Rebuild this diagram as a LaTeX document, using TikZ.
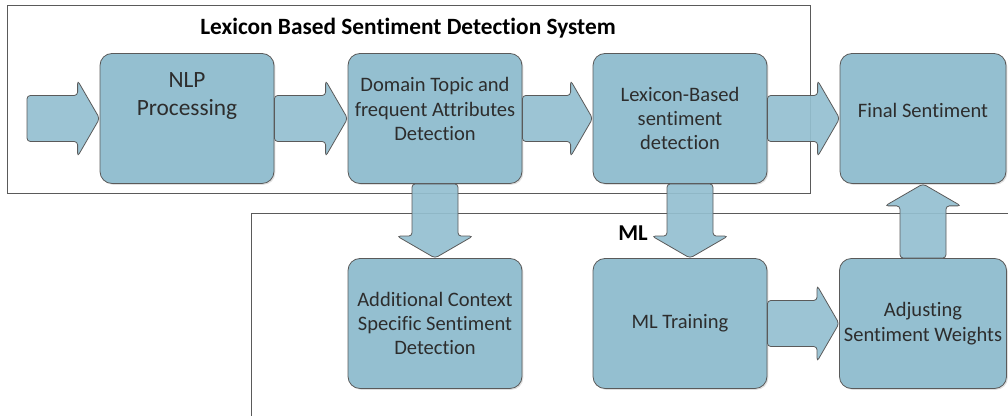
\documentclass[tikz,border=0pt]{standalone}
\usepackage{fontspec}
\setmainfont{Carlito}[Ligatures=CommonOff]
\usetikzlibrary{calc,shadows}

\definecolor{boxblue}{RGB}{148,191,208}
\definecolor{boxline}{RGB}{90,90,90}
\definecolor{boxtext}{RGB}{45,45,45}

\tikzset{%
  stage/.style={
    rectangle,
    rounded corners=9pt,
    draw=boxline,
    fill=boxblue,
    line width=0.6pt,
    minimum width=130.5pt,
    minimum height=97.5pt,
    text=boxtext,
    align=center,
    font=\fontsize{15.4}{18.3}\selectfont,
    drop shadow={opacity=0.25,shadow xshift=1pt,shadow yshift=-1pt}
  },
  block arrow/.style={
    draw=boxline,
    fill=boxblue,
    fill opacity=0.92,
    line width=0.6pt,
    rounded corners=2.5pt
  },
  frame/.style={
    draw=boxline,
    line width=0.7pt
  },
}

% block arrow pointing right, from #1 to #2
\newcommand{\harrow}[2]{%
  \draw[block arrow] let \p1=(#1), \p2=(#2) in
    (\x1,\y1+17.25pt) -- (\x2-16.5pt,\y1+17.25pt) -- (\x2-16.5pt,\y1+28.5pt)
    -- (\x2,\y1) -- (\x2-16.5pt,\y1-28.5pt) -- (\x2-16.5pt,\y1-17.25pt)
    -- (\x1,\y1-17.25pt) -- cycle;}
% block arrow pointing up or down, from #1 to #2
\newcommand{\varrow}[2]{%
  \draw[block arrow] let \p1=(#1), \p2=(#2), \n1={sign(\y1-\y2)} in
    (\x1+17.25pt,\y1) -- (\x1+17.25pt,\y2+\n1*16.5pt) -- (\x1+28.5pt,\y2+\n1*16.5pt)
    -- (\x1,\y2) -- (\x1-28.5pt,\y2+\n1*16.5pt) -- (\x1-17.25pt,\y2+\n1*16.5pt)
    -- (\x1-17.25pt,\y1) -- cycle;}

\begin{document}
\begin{tikzpicture}[x=0.75pt,y=0.75pt]
\useasboundingbox (0,0) rectangle (1008,416);
\clip (0,0) rectangle (1008,416);

% the two systems
\draw[frame] (7,411) rectangle (810,223);
\draw[frame] (251,-20) -- (251,203) -- (1030,203);
\node[font=\bfseries\fontsize{17.5}{20}\selectfont] (title) at (408,388) {Lexicon Based Sentiment Detection System};
\node[font=\bfseries\fontsize{17}{20}\selectfont] (mllabel) at (633,183) {ML};

% stages
\node[stage, font=\fontsize{17.5}{21}\selectfont, text depth=36pt] (nlp) at (187,297.5) {NLP\\Processing};
\node[stage, text depth=14pt] (domain) at (435,297.5) {Domain Topic and\\frequent Attributes\\Detection};
\node[stage] (lexicon) at (680,297.5) {Lexicon-Based\\sentiment\\detection};
\node[stage, minimum width=124.5pt, text depth=12pt] (final) at (923,297.5) {Final Sentiment};
\node[stage] (additional) at (435,92.5) {Additional Context\\Specific Sentiment\\Detection};
\node[stage] (mltrain) at (680,92.5) {ML Training};
\node[stage, minimum width=124.5pt] (adjust) at (923,92.5) {Adjusting\\Sentiment Weights};

% flow
\coordinate (source) at (27,297.5);
\harrow{source}{nlp.west}
\harrow{nlp.east}{domain.west}
\harrow{domain.east}{lexicon.west}
\harrow{lexicon.east}{final.west}
\harrow{mltrain.east}{adjust.west}
\varrow{domain.south}{additional.north}
\varrow{$(lexicon.south)+(10,0)$}{mltrain.north}
\varrow{adjust.north}{final.south}
\end{tikzpicture}
\end{document}
